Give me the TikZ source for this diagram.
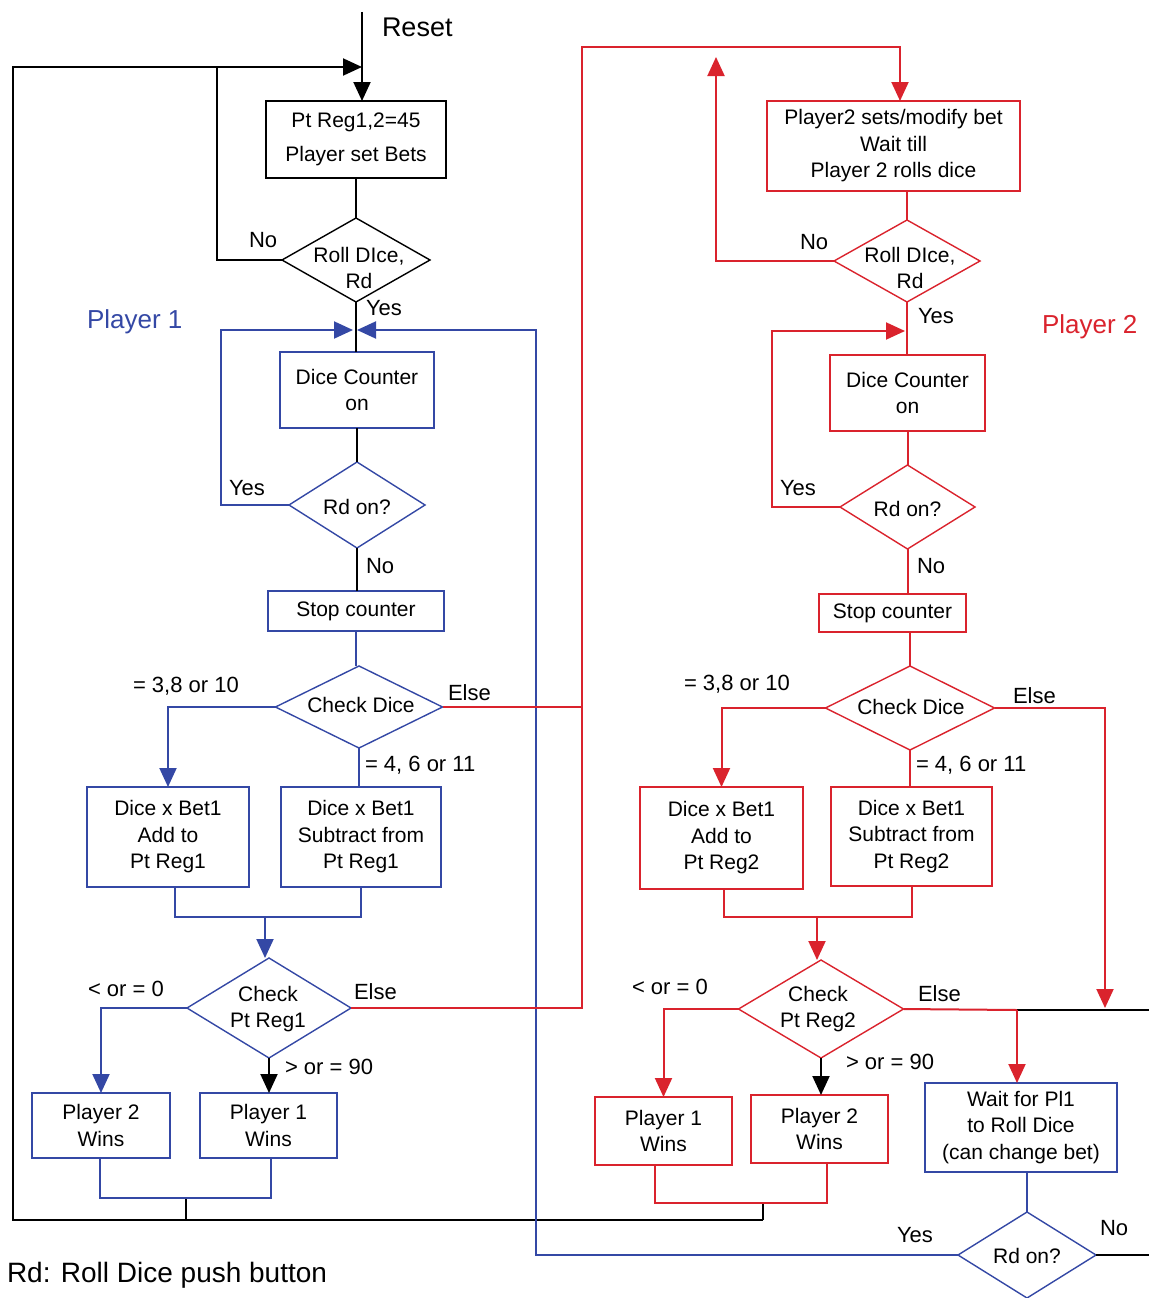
\documentclass[tikz,border=0pt]{standalone}
\usepackage{fontspec}
\setmainfont{Liberation Sans}
\usetikzlibrary{shapes.geometric,arrows.meta}
\definecolor{pb}{RGB}{52,72,165}
\definecolor{pr}{RGB}{218,35,45}
\begin{document}
\begin{tikzpicture}[x=1pt,y=-1pt,
 every node/.style={inner sep=0pt, outer sep=0pt},
 txt/.style={font=\fontsize{21}{26.5}\selectfont, align=center},
 lbl/.style={font=\fontsize{22}{26}\selectfont, anchor=west},
 bbox/.style={draw=pb, line width=2pt, txt},
 rbox/.style={draw=pr, line width=2pt, txt},
 kbox/.style={draw=black, line width=2pt, txt},
 dia/.style={diamond, aspect=1, line width=1.4pt},
 ln/.style={line width=2pt},
 arr/.style={line width=2pt, -{Triangle[width=17pt,length=19pt]}},
]
\useasboundingbox (0,0) rectangle (1149,1298);

% ---------- nodes: top / player 1 ----------
\node[kbox, minimum width=180pt, minimum height=77pt] (b1) at (356,139.5) {Pt Reg1,2=45\\[7pt]Player set Bets};
\node[dia, draw=black, minimum width=148pt, minimum height=84pt] (d1) at (356,260) {};
\node[txt] (d1t) at (359,268) {Roll DIce,\\Rd};
\node[bbox, minimum width=154pt, minimum height=76pt] (dc1) at (357,390) {Dice Counter\\on};
\node[dia, draw=pb, minimum width=136pt, minimum height=86pt] (r1) at (357,505) {};
\node[txt] (r1t) at (357,507) {Rd on?};
\node[bbox, minimum width=176pt, minimum height=40pt] (s1) at (356,611) {Stop counter};
\node[dia, draw=pb, minimum width=167pt, minimum height=82pt] (cd1) at (359,707) {};
\node[txt] (cd1t) at (361,705) {Check Dice};
\node[bbox, minimum width=162pt, minimum height=100pt] (a1) at (168,837) {Dice x Bet1\\Add to\\Pt Reg1};
\node[bbox, minimum width=160pt, minimum height=100pt] (sb1) at (361,837) {Dice x Bet1\\Subtract from\\Pt Reg1};
\node[dia, draw=pb, minimum width=164pt, minimum height=100pt] (cp1) at (269,1008) {};
\node[txt] (cp1t) at (268,1009) {Check\\Pt Reg1};
\node[bbox, minimum width=138pt, minimum height=65pt] (w21) at (101,1125.5) {Player 2\\Wins};
\node[bbox, minimum width=137pt, minimum height=65pt] (w11) at (268.5,1125.5) {Player 1\\Wins};

% ---------- nodes: player 2 ----------
\node[rbox, minimum width=253pt, minimum height=90pt] (b2) at (893.5,146) {Player2 sets/modify bet\\Wait till\\Player 2 rolls dice};
\node[dia, draw=pr, minimum width=146pt, minimum height=82pt] (d2) at (907,261) {};
\node[txt] (d2t) at (910,268) {Roll DIce,\\Rd};
\node[rbox, minimum width=155pt, minimum height=76pt] (dc2) at (907.5,393) {Dice Counter\\on};
\node[dia, draw=pr, minimum width=135pt, minimum height=84pt] (r2) at (907.5,507) {};
\node[txt] (r2t) at (907.5,509) {Rd on?};
\node[rbox, minimum width=147pt, minimum height=38pt] (s2) at (892.5,613) {Stop counter};
\node[dia, draw=pr, minimum width=169pt, minimum height=84pt] (cd2) at (910,708) {};
\node[txt] (cd2t) at (911,707) {Check Dice};
\node[rbox, minimum width=163pt, minimum height=102pt] (a2) at (721.5,838) {Dice x Bet1\\Add to\\Pt Reg2};
\node[rbox, minimum width=161pt, minimum height=99pt] (sb2) at (911.5,836.5) {Dice x Bet1\\Subtract from\\Pt Reg2};
\node[dia, draw=pr, minimum width=165pt, minimum height=98pt] (cp2) at (821,1009) {};
\node[txt] (cp2t) at (818,1009) {Check\\Pt Reg2};
\node[rbox, minimum width=137pt, minimum height=68pt] (w12) at (663.5,1131) {Player 1\\Wins};
\node[rbox, minimum width=137pt, minimum height=68pt] (w22) at (819.5,1129) {Player 2\\Wins};
\node[bbox, minimum width=192pt, minimum height=89pt] (wt) at (1021,1127.5) {Wait for Pl1\\to Roll Dice\\(can change bet)};
\node[dia, draw=pb, minimum width=138pt, minimum height=86pt] (r3) at (1027,1255) {};
\node[txt] (r3t) at (1027,1256) {Rd on?};

% ---------- coordinates ----------
\coordinate (rtop) at (362,12);
\coordinate (rin) at (362,101);
\coordinate (tl) at (13,67);
\coordinate (tj) at (362,67);
\coordinate (nj) at (217,67);
\coordinate (bl) at (13,1220);
\coordinate (bm1) at (186,1220);
\coordinate (bm1t) at (186,1198);
\coordinate (bm2) at (763,1220);
\coordinate (bm2t) at (763,1203);
\coordinate (j1l) at (353,330);
\coordinate (j1r) at (357,330);
\coordinate (lp1) at (221,330);
\coordinate (rp1) at (536,330);
\coordinate (y917) at (0,917);
\coordinate (y1198) at (0,1198);
\coordinate (y1203) at (0,1203);
\coordinate (m1a) at (175,887);
\coordinate (m1t) at (265,917);
\coordinate (m2a) at (724,889);
\coordinate (m2t) at (817,917);
\coordinate (w1a) at (100,1158);
\coordinate (w1b) at (271,1158);
\coordinate (w2a) at (655,1165);
\coordinate (w2b) at (827,1163);
\coordinate (rt1) at (582,47);
\coordinate (rt2) at (900,47);
\coordinate (r2in) at (900,101);
\coordinate (nup) at (716,57);
\coordinate (lp2) at (772,331);
\coordinate (j2) at (905,331);
\coordinate (eb) at (1105,1008);
\coordinate (ej) at (1017,1010);
\coordinate (er) at (1149,1010);
\coordinate (nr) at (1149,1255);

% ---------- black connectors ----------
\draw[arr] (rtop) -- (rin);
\draw[arr] (bm2) -- (bl) -- (tl) -- (tj);
\draw[ln] (b1.south) -- (d1.north);
\draw[ln] (d1.west) -| (nj);
\draw[ln] (d1.south) -- (d1.south |- dc1.north);
\draw[ln] (r1.north |- dc1.south) -- (r1.north);
\draw[ln] (r1.south) -- (r1.south |- s1.north);
\draw[arr] (cp1.south) -- (cp1.south |- w11.north);
\draw[ln] (bm1t) -- (bm1);
\draw[ln] (bm2t) -- (bm2);
\draw[arr] (cp2.south) -- (cp2.south |- w22.north);
\draw[ln] (ej) -- (er);
\draw[ln] (r3.east) -- (nr);

% ---------- blue connectors ----------
\begin{scope}[draw=pb, color=pb]
\draw[arr] (r1.west) -| (lp1) -- (j1l);
\draw[arr] (r3.west) -| (rp1) -- (j1r);
\draw[ln] (s1.south) -- (s1.south |- cd1.north);
\draw[arr] (cd1.west) -| (a1.north);
\draw[ln] (cd1.south) -- (cd1.south |- sb1.north);
\draw[ln] (m1a) |- (sb1.south |- y917) -- (sb1.south);
\draw[arr] (m1t) -- (m1t |- cp1.north);
\draw[arr] (cp1.west) -| (w21.north);
\draw[ln] (w1a) |- (w1b |- y1198) -- (w1b);
\draw[ln] (r3.north |- wt.south) -- (r3.north);
\end{scope}

% ---------- red connectors ----------
\begin{scope}[draw=pr, color=pr]
\draw[arr] (cp1.east) -| (rt1) -- (rt2) -- (r2in);
\draw[ln] (cd1.east) -- (cd1.east -| rt1);
\draw[ln] (d2.north |- b2.south) -- (d2.north);
\draw[arr] (d2.west) -| (nup);
\draw[ln] (d2.south) -- (d2.south |- dc2.north);
\draw[arr] (r2.west) -| (lp2) -- (j2);
\draw[ln] (r2.north |- dc2.south) -- (r2.north);
\draw[ln] (r2.south) -- (r2.south |- s2.north);
\draw[ln] (cd2.north |- s2.south) -- (cd2.north);
\draw[arr] (cd2.west) -| (a2.north);
\draw[ln] (cd2.south) -- (cd2.south |- sb2.north);
\draw[arr] (cd2.east) -| (eb);
\draw[ln] (m2a) |- (sb2.south |- y917) -- (sb2.south);
\draw[arr] (m2t) -- (m2t |- cp2.north);
\draw[arr] (cp2.west) -| (w12.north);
\draw[ln] (cp2.east) -- (ej);
\draw[arr] (ej) -- (ej |- wt.north);
\draw[ln] (w2a) |- (w2b |- y1203) -- (w2b);
\end{scope}

% ---------- labels ----------
\node[lbl, font=\fontsize{27}{30}\selectfont] (lreset) at (382,27) {Reset};
\node[lbl] (lno1) at (249,240) {No};
\node[lbl] (lyes1) at (366,308) {Yes};
\node[lbl, text=pb, font=\fontsize{26}{30}\selectfont] (lp1t) at (87,322) {Player 1};
\node[lbl] (lyes2) at (229,488) {Yes};
\node[lbl] (lno2) at (366,566) {No};
\node[lbl] (l38a) at (133,686) {= 3,8 or 10};
\node[lbl] (lelse1) at (448,693) {Else};
\node[lbl] (l46a) at (365,765) {= 4, 6 or 11};
\node[lbl] (lle0a) at (88,989) {< or = 0};
\node[lbl] (lelse2) at (354,992) {Else};
\node[lbl] (lge90a) at (285,1067) {> or = 90};

\node[lbl] (lno3) at (800,242) {No};
\node[lbl] (lyes3) at (918,316) {Yes};
\node[lbl, text=pr, font=\fontsize{26}{30}\selectfont] (lp2t) at (1042,327) {Player 2};
\node[lbl] (lyes4) at (780,488) {Yes};
\node[lbl] (lno4) at (917,566) {No};
\node[lbl] (l38b) at (684,684) {= 3,8 or 10};
\node[lbl] (lelse3) at (1013,696) {Else};
\node[lbl] (l46b) at (916,765) {= 4, 6 or 11};
\node[lbl] (lle0b) at (632,987) {< or = 0};
\node[lbl] (lelse4) at (918,994) {Else};
\node[lbl] (lge90b) at (846,1062) {> or = 90};
\node[lbl] (lyes5) at (897,1235) {Yes};
\node[lbl] (lno5) at (1100,1228) {No};
\node[lbl, font=\fontsize{28}{32}\selectfont] (lnote) at (7,1275) {Rd: Roll Dice push button};
\end{tikzpicture}
\end{document}
